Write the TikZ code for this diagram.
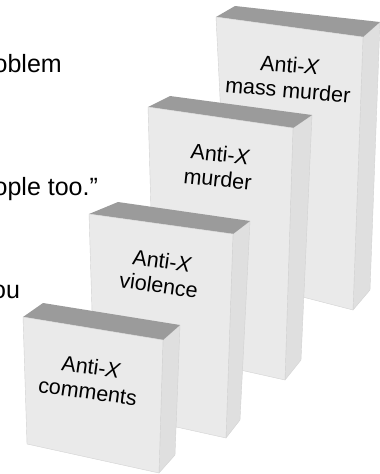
\documentclass[tikz,border=0pt]{standalone}
\usepackage{fontspec}
\setmainfont{Liberation Sans}
\definecolor{frontgray}{HTML}{EAEAEA}
\definecolor{sidegray}{HTML}{DFDFDF}
\definecolor{topgray}{HTML}{9B9B9B}
\definecolor{edgegray}{HTML}{D2D2D2}
\begin{document}
\begin{tikzpicture}[x=1pt,y=-1pt,
  frontface/.style={fill=frontgray, draw=edgegray, line width=0.4pt, line join=round},
  sideface/.style={fill=sidegray, draw=edgegray, line width=0.4pt, line join=round},
  topface/.style={fill=topgray},
  boxlabel/.style={align=center, font=\fontsize{21.5}{25}\selectfont, inner sep=0pt},
  slidetext/.style={anchor=base west, font=\fontsize{25}{30}\selectfont, inner sep=0pt}]
\useasboundingbox (0,0) rectangle (380,474);
\begin{scope}
\clip (0,0) rectangle (380,474);
% slide text fragments
\node[slidetext] (t1) at (-6.5,72.7) {oblem};
\node[slidetext] (t2) at (-6.5,195) {ople too.”};
\node[slidetext] (t3) at (-8,298) {ou};
% Box A
\fill[sideface] (363,37) -- (380,22) -- (370,290) -- (353,310) -- cycle;
\fill[topface] (216,17) -- (235,6) -- (380,22) -- (363,37) -- cycle;
\fill[frontface] (216,17) -- (363,37) -- (353,310) -- (229,278) -- cycle;
\node[boxlabel, rotate=-5] (lblA) at (289,77.5) {Anti-\textit{X}\\mass murder};
% Box B
\fill[sideface] (293,128) -- (312,115) -- (301,360) -- (285,380) -- cycle;
\fill[topface] (148,107) -- (170,96) -- (312,115) -- (293,128) -- cycle;
\fill[frontface] (148,107) -- (293,128) -- (285,380) -- (155,351) -- cycle;
\node[boxlabel, rotate=-6] (lblB) at (219,166.5) {Anti-\textit{X}\\murder};
% Box C
\fill[sideface] (233,234) -- (250,221) -- (240,420) -- (226,438) -- cycle;
\fill[topface] (89,214) -- (118,202) -- (250,221) -- (233,234) -- cycle;
\fill[frontface] (89,214) -- (233,234) -- (226,438) -- (95,409) -- cycle;
\node[boxlabel, rotate=-8] (lblC) at (160.5,273) {Anti-\textit{X}\\violence};
% Box D
\fill[sideface] (163,340) -- (180,325) -- (175,455) -- (159,473) -- cycle;
\fill[topface] (23,317) -- (43,303) -- (180,325) -- (163,340) -- cycle;
\fill[frontface] (23,317) -- (163,340) -- (159,473) -- (27,444) -- cycle;
\node[boxlabel, rotate=-8] (lblD) at (89.5,379) {Anti-\textit{X}\\comments};
\end{scope}
\end{tikzpicture}
\end{document}
